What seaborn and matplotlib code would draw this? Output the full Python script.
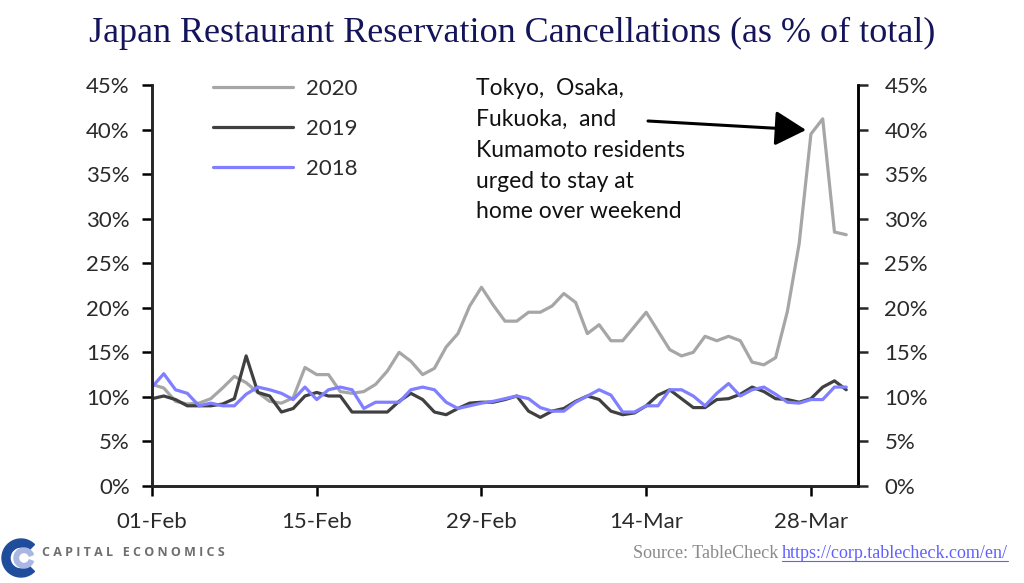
import matplotlib
matplotlib.use('Agg')
import matplotlib.pyplot as plt
import matplotlib.dates as mdates
from matplotlib.patches import Wedge
from matplotlib.lines import Line2D
import seaborn as sns
import pandas as pd
import numpy as np

# daily cancellations as % of total, 01-Feb .. 31-Mar
years = ['2020', '2019', '2018']
y2020 = [11.4, 11.0, 9.5, 9.2, 9.3, 9.8, 11.0, 12.3, 11.6, 10.5,
         9.5, 9.3, 9.9, 13.3, 12.5, 12.5, 10.6, 10.4, 10.6, 11.4,
         12.9, 15.0, 14.0, 12.5, 13.2, 15.6, 17.1, 20.2, 22.3, 20.3,
         18.5, 18.5, 19.5, 19.5, 20.2, 21.6, 20.6, 17.1, 18.1, 16.3,
         16.3, 17.9, 19.5, 17.4, 15.3, 14.6, 15.0, 16.8, 16.3, 16.8,
         16.3, 13.9, 13.6, 14.4, 19.6, 27.2, 39.5, 41.2, 28.5, 28.2]
y2019 = [9.8, 10.1, 9.7, 9.0, 9.0, 9.0, 9.2, 9.8, 14.6, 10.5,
         10.1, 8.3, 8.7, 10.1, 10.5, 10.1, 10.1, 8.3, 8.3, 8.3,
         8.3, 9.5, 10.4, 9.7, 8.3, 8.0, 8.7, 9.3, 9.4, 9.4,
         9.7, 10.1, 8.4, 7.7, 8.4, 8.7, 9.5, 10.1, 9.7, 8.4,
         8.0, 8.2, 9.0, 10.2, 10.8, 9.8, 8.8, 8.8, 9.7, 9.8,
         10.3, 11.1, 10.6, 9.8, 9.7, 9.4, 9.8, 11.1, 11.8, 10.8]
y2018 = [11.1, 12.6, 10.8, 10.4, 9.0, 9.3, 9.0, 9.0, 10.3, 11.1,
         10.8, 10.4, 9.7, 11.1, 9.7, 10.8, 11.1, 10.8, 8.7, 9.4,
         9.4, 9.4, 10.8, 11.1, 10.8, 9.4, 8.7, 9.0, 9.3, 9.5,
         9.8, 10.1, 9.8, 8.8, 8.4, 8.4, 9.4, 10.1, 10.8, 10.2,
         8.3, 8.3, 9.0, 9.0, 10.8, 10.8, 10.1, 9.0, 10.4, 11.5,
         10.1, 10.8, 11.1, 10.3, 9.4, 9.3, 9.7, 9.7, 11.1, 11.1]
dates = pd.date_range('2020-02-01', periods=len(y2020), freq='D')
tick_dates = pd.date_range('2020-02-01', periods=5, freq='14D')
y_ticks = list(range(0, 50, 5))

colors = {'2020': '#a6a6a6', '2019': '#404040', '2018': '#7f7fff'}

df = pd.concat([
    pd.DataFrame({'date': dates, 'value': y2020, 'year': '2020'}),
    pd.DataFrame({'date': dates, 'value': y2019, 'year': '2019'}),
    pd.DataFrame({'date': dates, 'value': y2018, 'year': '2018'}),
])

sns.set_theme(style='white')
plt.rcParams['font.family'] = ['Lato', 'DejaVu Sans']
plt.rcParams['axes.linewidth'] = 1.8

fig = plt.figure(figsize=(10.24, 5.83), dpi=100)
ax = fig.add_axes([152 / 1024, 1 - 486 / 583, 706 / 1024, 401 / 583])

sns.lineplot(data=df, x='date', y='value', hue='year', hue_order=years,
             palette=colors, linewidth=2.3, ax=ax)

ax.set_xlim(pd.Timestamp('2020-02-01'), pd.Timestamp('2020-04-01'))
ax.set_ylim(0, 45)
ax.set_xticks(tick_dates)
ax.xaxis.set_major_formatter(mdates.DateFormatter('%d-%b'))
ax.set_yticks(y_ticks)
ax.set_yticklabels([f'{v}%' for v in y_ticks])
ax.set_xlabel('')
ax.set_ylabel('')
for s in ['left', 'right', 'bottom']:
    ax.spines[s].set_color('black')
ax.spines['top'].set_visible(False)
ax.tick_params(axis='y', which='major', direction='out', length=7, width=1.8,
               labelsize=16, pad=9, colors='black', left=True)
ax.tick_params(axis='x', which='major', direction='out', length=7, width=1.8,
               labelsize=16, pad=12, colors='black', bottom=True)
for lab in ax.get_yticklabels() + ax.get_xticklabels():
    lab.set_color('#2a2a2a')

ax2 = ax.twinx()
ax2.set_ylim(0, 45)
ax2.set_yticks(y_ticks)
ax2.set_yticklabels([f'{v}%' for v in y_ticks])
ax2.spines['top'].set_visible(False)
ax2.spines['right'].set_color('black')
ax2.tick_params(axis='y', direction='out', length=7, width=1.8, labelsize=16,
                pad=12, right=True, labelcolor='#2a2a2a')
ax2.grid(False)
ax.grid(False)

handles, labels = ax.get_legend_handles_labels()
ax.legend(handles, labels, loc='upper left', bbox_to_anchor=(0.058, 1.065),
          frameon=False, fontsize=16, handlelength=3.6, handletextpad=0.6,
          labelspacing=0.9, labelcolor='#2a2a2a')

ax.annotate('Tokyo,  Osaka,\nFukuoka,  and\nKumamoto residents\nurged to stay at\nhome over weekend',
            xy=(476 / 1024, 1 - 78 / 583), xycoords='figure fraction',
            ha='left', va='top', fontsize=16.5, color='#111111', linespacing=1.58)
ax.annotate('', xy=(806 / 1024, 1 - 130 / 583), xycoords='figure fraction',
            xytext=(648 / 1024, 1 - 121 / 583), textcoords='figure fraction',
            arrowprops=dict(arrowstyle='-|>,head_length=1.6,head_width=0.9',
                            color='black', lw=2.2, shrinkA=0, shrinkB=0))

fig.text(0.5, 1 - 33 / 583, 'Japan Restaurant Reservation Cancellations (as % of total)',
         ha='center', va='center', fontsize=26, color='#14145a',
         family=['Liberation Serif', 'DejaVu Serif'])

# footer
lax = fig.add_axes([0, 0, 44 / 1024, 50 / 583])
lax.set_xlim(0, 44)
lax.set_ylim(0, 50)
lax.axis('off')
lax.add_patch(Wedge((21, 25), 19, 45, 315, width=8, color='#1f4d9c'))
lax.add_patch(Wedge((24, 25), 10, 20, 340, width=4.5, color='#a9b7e2'))
fig.text(42 / 1024, 1 - 553 / 583, 'C A P I T A L   E C O N O M I C S',
         ha='left', va='center', fontsize=9, fontweight='bold',
         color='#6e6e6e', family=['Open Sans', 'DejaVu Sans'])

url = fig.text(1008 / 1024, 1 - 553 / 583, 'https://corp.tablecheck.com/en/',
               ha='right', va='center', fontsize=13, color='#6060ff',
               family=['Liberation Serif', 'DejaVu Serif'])
fig.canvas.draw()
bb = url.get_window_extent()
fig.text((bb.x0 - 4) / 1024, 1 - 553 / 583, 'Source: TableCheck',
         ha='right', va='center', fontsize=13, color='#8a8a8a',
         family=['Liberation Serif', 'DejaVu Serif'])
fig.add_artist(Line2D([bb.x0 / 1024, bb.x1 / 1024], [(bb.y0 + 1) / 583] * 2,
                      color='#6060ff', lw=0.8, transform=fig.transFigure))

fig.savefig('out.png', dpi=100)
